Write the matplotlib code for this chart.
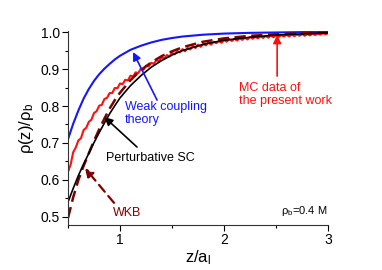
import numpy as np
import matplotlib
matplotlib.use("Agg")
import matplotlib.pyplot as plt
from matplotlib.ticker import MultipleLocator, FormatStrFormatter

plt.rcParams['font.family'] = ['Liberation Sans', 'DejaVu Sans']
plt.rcParams['mathtext.fontset'] = 'custom'
plt.rcParams['mathtext.rm'] = 'Liberation Sans'
plt.rcParams['mathtext.it'] = 'Liberation Sans'

# smooth theory curves
z_th = [0.5, 0.55, 0.6, 0.65, 0.7, 0.75, 0.8, 0.85, 0.9, 0.95, 1.0, 1.1, 1.2,
        1.3, 1.4, 1.5, 1.6, 1.8, 2.0, 2.25, 2.5, 2.75, 3.0]
weak = [0.710, 0.752, 0.788, 0.820, 0.846, 0.868, 0.886, 0.901, 0.914, 0.926, 0.936,
        0.952, 0.963, 0.972, 0.979, 0.984, 0.988, 0.993, 0.996, 0.998, 0.999, 1.0, 1.0]
pert = [0.540, 0.577, 0.612, 0.643, 0.672, 0.701, 0.728, 0.754, 0.779, 0.801, 0.822,
        0.855, 0.882, 0.905, 0.923, 0.938, 0.950, 0.967, 0.978, 0.986, 0.992, 0.995, 0.998]
wkb = [0.497, 0.553, 0.600, 0.638, 0.672, 0.706, 0.737, 0.766, 0.793, 0.816, 0.836,
       0.870, 0.897, 0.918, 0.935, 0.948, 0.959, 0.974, 0.983, 0.990, 0.994, 0.997, 0.999]

# MC data (noisy)
z_mc = np.arange(0.5, 3.0001, 0.025)
mc = [0.622, 0.641, 0.675, 0.688, 0.707, 0.713, 0.735, 0.741, 0.757, 0.763,
      0.781, 0.786, 0.801, 0.803, 0.819, 0.822, 0.835, 0.835, 0.849, 0.848,
      0.861, 0.859, 0.871, 0.869, 0.882, 0.880, 0.891, 0.889, 0.901, 0.898,
      0.909, 0.907, 0.917, 0.914, 0.924, 0.921, 0.932, 0.928, 0.938, 0.934,
      0.944, 0.940, 0.949, 0.945, 0.954, 0.948, 0.957, 0.953, 0.962, 0.957,
      0.966, 0.960, 0.968, 0.964, 0.972, 0.966, 0.974, 0.970, 0.976, 0.971,
      0.979, 0.974, 0.981, 0.976, 0.982, 0.977, 0.984, 0.979, 0.985, 0.980,
      0.987, 0.982, 0.988, 0.983, 0.989, 0.984, 0.990, 0.985, 0.991, 0.986,
      0.992, 0.987, 0.992, 0.988, 0.993, 0.988, 0.994, 0.989, 0.994, 0.990,
      0.995, 0.990, 0.995, 0.991, 0.996, 0.992, 0.996, 0.993, 0.997, 0.994,
      0.997]

blue = '#1515ff'
red = '#ff1010'
dred = '#800000'

fig = plt.figure(figsize=(3.82, 2.70), dpi=100)
ax = fig.add_axes([0.178, 0.1667, 0.681, 0.7185])

ax.plot(z_th, weak, color=blue, lw=1.5)
ax.plot(z_mc, mc, color=red, lw=1.5)
ax.plot(z_th, wkb, color=dred, lw=1.8, ls=(0, (4.5, 2.2)))
ax.plot(z_th, pert, color='black', lw=1.2)

ax.set_xlim(0.5, 3.0)
ax.set_ylim(0.478, 1.003)
ax.xaxis.set_major_locator(MultipleLocator(1))
ax.xaxis.set_minor_locator(MultipleLocator(0.5))
ax.yaxis.set_major_locator(MultipleLocator(0.1))
ax.yaxis.set_minor_locator(MultipleLocator(0.05))
ax.yaxis.set_major_formatter(FormatStrFormatter('%.1f'))
ax.tick_params(direction='out', length=4, width=0.8, labelsize=10, pad=2)
ax.tick_params(which='minor', direction='out', length=2.5, width=0.8)
for s in ['top', 'right']:
    ax.spines[s].set_visible(False)
for s in ['left', 'bottom']:
    ax.spines[s].set_linewidth(0.8)
    ax.spines[s].set_color('#333333')

ax.set_xlabel('z/a$_\\mathregular{l}$', fontsize=12, labelpad=1)
ax.set_ylabel('ρ(z)/ρ$_\\mathregular{b}$', fontsize=12, labelpad=3)


def arrow(tail, head, col, ls='-', lw=1.2):
    ax.annotate('', xy=head, xytext=tail,
                arrowprops=dict(arrowstyle='-|>', color=col, lw=lw, ls=ls,
                                mutation_scale=12, shrinkA=0, shrinkB=0))


# annotations
ax.text(1.05, 0.78, 'Weak coupling\ntheory', color=blue, fontsize=9,
        linespacing=1.15, va='center', ha='left')
arrow((1.356, 0.816), (1.125, 0.946), blue)

ax.text(0.865, 0.659, 'Perturbative SC', color='black', fontsize=9, va='center')
arrow((1.163, 0.689), (0.85, 0.770), 'black')

ax.text(0.933, 0.511, 'WKB', color=dred, fontsize=9, va='center')
arrow((0.942, 0.538), (0.663, 0.632), dred, ls=(0, (4, 2.5)), lw=1.6)

ax.text(2.144, 0.832, 'MC data of\nthe present work', color=red, fontsize=9,
        linespacing=1.15, va='center')
arrow((2.51, 0.881), (2.51, 0.992), red)

ax.text(2.99, 0.516, 'ρ$_\\mathregular{b}$=0.4 M', fontsize=8, ha='right', va='center')

fig.savefig('out.png', dpi=100)
